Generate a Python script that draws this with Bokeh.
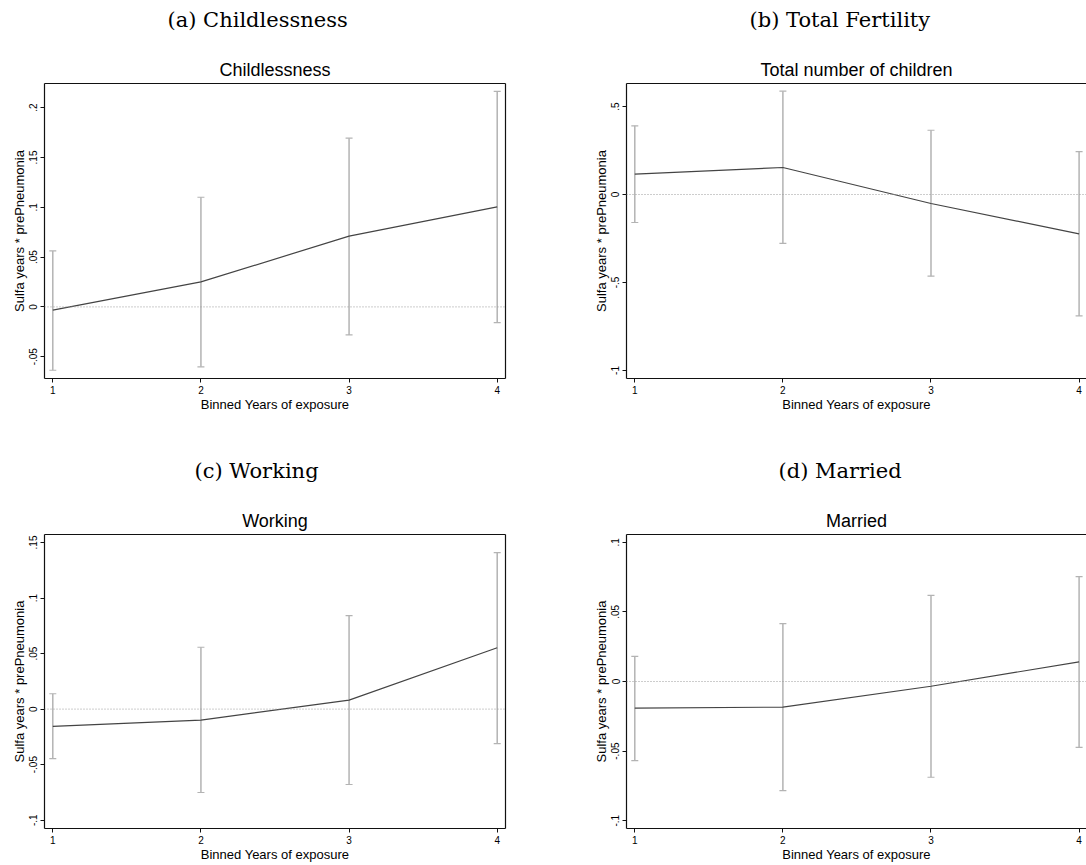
from bokeh.plotting import figure
from bokeh.models import (ColumnDataSource, Whisker, TeeHead, Span, Title, FixedTicker,
                          CustomJSTickFormatter, Range1d, LinearAxis)
from bokeh.layouts import column, row
from bokeh.embed import file_html
from bokeh.resources import INLINE

# ---- data ----
bins = [1, 2, 3, 4]

captions = ["(a) Childlessness", "(b) Total Fertility", "(c) Working", "(d) Married"]
subtitles = ["Childlessness", "Total number of children", "Working", "Married"]
x_title = "Binned Years of exposure"
y_title = "Sulfa years * prePneumonia"

childless_est = [-0.0033, 0.0251, 0.0710, 0.1004]
childless_lo = [-0.0636, -0.0602, -0.0281, -0.0157]
childless_hi = [0.0562, 0.1101, 0.1694, 0.2163]

fertility_est = [0.1153, 0.1534, -0.0511, -0.2237]
fertility_lo = [-0.159, -0.278, -0.464, -0.690]
fertility_hi = [0.390, 0.587, 0.365, 0.244]

working_est = [-0.0155, -0.0099, 0.0081, 0.0552]
working_lo = [-0.0446, -0.0751, -0.0679, -0.0311]
working_hi = [0.0138, 0.0557, 0.0842, 0.1408]

married_est = [-0.0191, -0.0184, -0.0034, 0.0141]
married_lo = [-0.0569, -0.0784, -0.0688, -0.0473]
married_hi = [0.0181, 0.0416, 0.0619, 0.0753]

yticks_a = [-0.05, 0, 0.05, 0.1, 0.15, 0.2]
yticks_b = [-1, -0.5, 0, 0.5]
yticks_c = [-0.1, -0.05, 0, 0.05, 0.1, 0.15]
yticks_d = [-0.1, -0.05, 0, 0.05, 0.1]

SANS = "Liberation Sans"
SERIF = "DejaVu Serif"
FRAME = "#111111"


def stata_fmt():
    return CustomJSTickFormatter(code="""
        return tick.toString().replace(/^(-?)0\\./, '$1.');
    """)


def border_axis():
    return LinearAxis(ticker=FixedTicker(ticks=[]), major_tick_out=0, major_tick_in=0,
                      minor_tick_out=0, minor_tick_in=0, major_label_standoff=0,
                      axis_line_color=FRAME, axis_line_width=1.2)


def make_panel(est, lo, hi, yticks, yr, caption, subtitle, left, top, cap_offset):
    if left:
        mb_left, mb_right, fw = 44, 38, 461
        xr = Range1d(0.944, 4.056)
    else:
        mb_left, mb_right, fw = 83, 0, 460
        xr = Range1d(0.944, 0.944 + 460 / 148.1)
    if top:
        mb_top, fh, mb_bot = 83, 295, 57
    else:
        mb_top, fh, mb_bot = 99, 295, 35
    p = figure(width=mb_left + fw + mb_right, height=mb_top + fh + mb_bot,
               x_range=xr, y_range=Range1d(*yr),
               output_backend="svg", toolbar_location=None,
               min_border_left=mb_left, min_border_right=mb_right,
               min_border_top=mb_top, min_border_bottom=mb_bot,
               background_fill_color="white", border_fill_color="white")
    p.xgrid.visible = False
    p.ygrid.visible = False
    p.outline_line_color = None

    # frame border: top (and right for left-hand panels, the right-hand ones are cut off)
    p.add_layout(border_axis(), "above")
    if left:
        p.add_layout(border_axis(), "right")

    # subtitle (Stata graph title), just above the frame
    p.add_layout(Title(text=subtitle, align="center", vertical_align="bottom",
                       text_font=SANS, text_font_size="18px", text_font_style="normal",
                       text_color="black", standoff=7), "above")
    # caption (LaTeX subfigure caption), outermost
    p.title.text = caption
    p.title.align = "left"
    p.title.offset = cap_offset
    p.title.vertical_align = "bottom"
    p.title.standoff = 0
    p.title.padding = dict(left=0, right=0, top=0, bottom=23)
    p.title.text_font = SERIF
    p.title.text_font_size = "21px"
    p.title.text_font_style = "normal"
    p.title.text_color = "black"

    xax = p.below[0]
    yax = p.left[0]
    for ax in (xax, yax):
        ax.axis_line_color = FRAME
        ax.axis_line_width = 1.2
        ax.major_tick_line_color = FRAME
        ax.major_tick_in = 0
        ax.major_tick_out = 4
        ax.minor_tick_line_color = None
        ax.major_label_text_font = SANS
        ax.major_label_text_font_size = "10px"
        ax.major_label_text_color = "black"
        ax.axis_label_text_font = SANS
        ax.axis_label_text_font_size = "13px"
        ax.axis_label_text_font_style = "normal"
        ax.axis_label_text_color = "black"
        ax.major_label_standoff = 3
        ax.axis_label_standoff = 0
    xax.ticker = FixedTicker(ticks=bins)
    xax.axis_label = x_title
    yax.ticker = FixedTicker(ticks=yticks)
    yax.formatter = stata_fmt()
    yax.major_label_orientation = "vertical"
    yax.axis_label = y_title

    src = ColumnDataSource(dict(x=bins, est=est, lo=lo, hi=hi))
    p.add_layout(Span(location=0, dimension="width", line_color="#9a9a9a",
                      line_dash="1 2", line_width=1))
    wh = Whisker(base="x", lower="lo", upper="hi", source=src,
                 line_color="#b3b3b3", line_width=1.5,
                 upper_head=TeeHead(size=7, line_color="#b3b3b3", line_width=1.2),
                 lower_head=TeeHead(size=7, line_color="#b3b3b3", line_width=1.2))
    p.add_layout(wh)
    p.line("x", "est", source=src, line_color="#444444", line_width=1.2)
    return p


pa = make_panel(childless_est, childless_lo, childless_hi, yticks_a, (-0.0719, 0.2243),
                captions[0], subtitles[0], True, True, 123)
pb = make_panel(fertility_est, fertility_lo, fertility_hi, yticks_b, (-1.0455, 0.6307),
                captions[1], subtitles[1], False, True, 123)
pc = make_panel(working_est, working_lo, working_hi, yticks_c, (-0.1075, 0.1572),
                captions[2], subtitles[2], True, False, 150)
pd = make_panel(married_est, married_lo, married_hi, yticks_d, (-0.1056, 0.1056),
                captions[3], subtitles[3], False, False, 152)

layout = column(row(pa, pb), row(pc, pd))
open("out.html", "w").write(file_html(layout, INLINE))
